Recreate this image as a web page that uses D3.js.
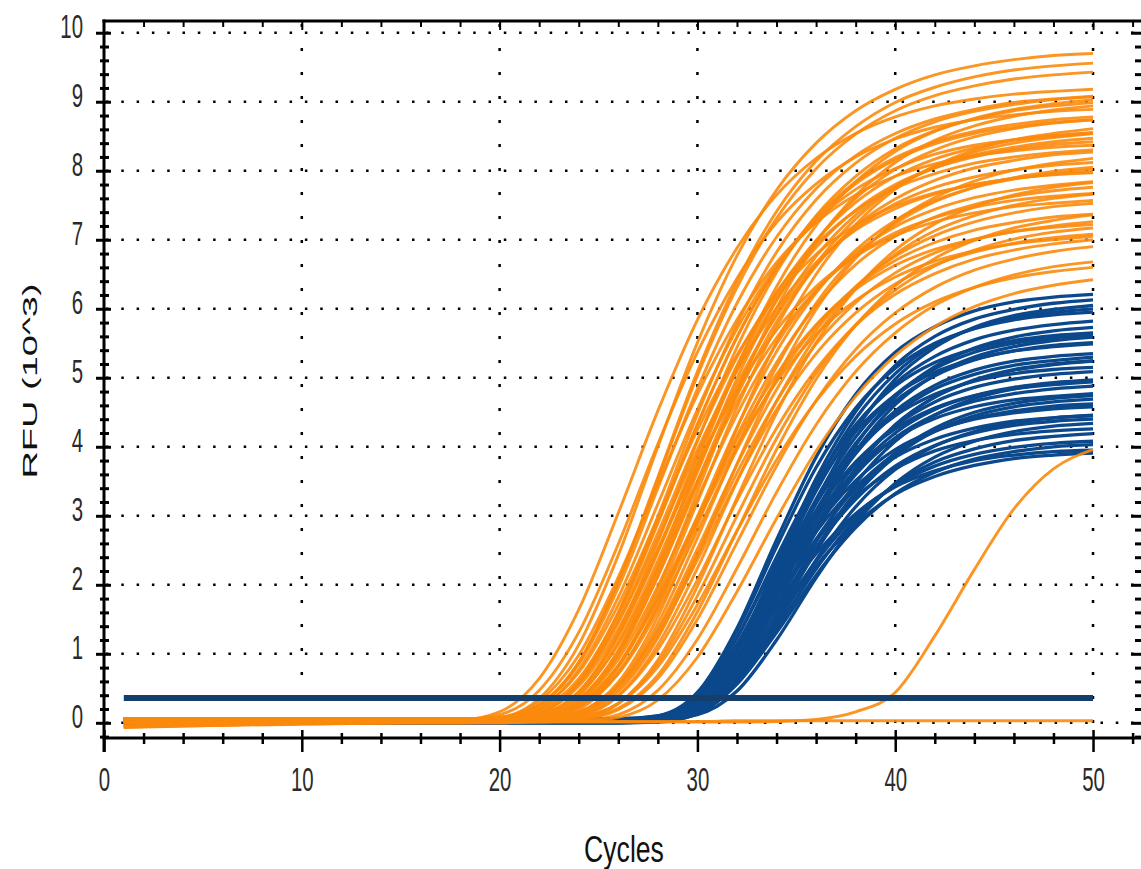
<!DOCTYPE html>
<html>
<head>
<meta charset="utf-8">
<script src="https://cdn.jsdelivr.net/npm/d3@7"></script>
<style>
  body { margin: 0; background: #ffffff; }
</style>
</head>
<body>
<script>
// amplification curves, RFU (10^3) at each cycle knot
const orangeCycles = [1, 10, 16, 18, 20, 22, 24, 26, 28, 30, 32, 34, 36, 38, 40, 42, 44, 46, 48, 50];
const orangeRuns = [
  [-0.05, 0.02, 0.03, 0.04, 0.16, 0.64, 1.64, 3.04, 4.52, 5.84, 6.88, 7.65, 8.18, 8.54, 8.78, 8.94, 9.04, 9.11, 9.15, 9.18],
  [0.02, 0.02, 0.02, 0.02, 0.07, 0.35, 1.13, 2.43, 4.00, 5.51, 6.77, 7.72, 8.40, 8.87, 9.18, 9.39, 9.52, 9.61, 9.67, 9.70],
  [0.05, 0.05, 0.05, 0.05, 0.08, 0.26, 0.88, 2.04, 3.53, 5.03, 6.31, 7.31, 8.03, 8.53, 8.87, 9.09, 9.23, 9.33, 9.39, 9.43],
  [-0.06, -0.02, 0.00, 0.00, 0.01, 0.13, 0.60, 1.60, 2.99, 4.47, 5.78, 6.82, 7.58, 8.11, 8.47, 8.71, 8.86, 8.96, 9.03, 9.07],
  [0.04, 0.04, 0.04, 0.05, 0.12, 0.47, 1.31, 2.59, 4.04, 5.37, 6.44, 7.25, 7.81, 8.20, 8.46, 8.63, 8.74, 8.81, 8.86, 8.89],
  [0.02, 0.02, 0.02, 0.02, 0.03, 0.10, 0.45, 1.31, 2.62, 4.08, 5.44, 6.53, 7.35, 7.92, 8.32, 8.58, 8.75, 8.87, 8.94, 8.99],
  [0.06, 0.06, 0.06, 0.06, 0.07, 0.19, 0.64, 1.59, 2.92, 4.33, 5.59, 6.58, 7.30, 7.81, 8.16, 8.39, 8.54, 8.63, 8.70, 8.74],
  [-0.07, -0.01, 0.01, 0.01, 0.03, 0.20, 0.77, 1.82, 3.17, 4.54, 5.71, 6.62, 7.27, 7.73, 8.03, 8.24, 8.37, 8.45, 8.51, 8.55],
  [0.03, 0.03, 0.03, 0.03, 0.03, 0.07, 0.33, 1.03, 2.21, 3.63, 4.99, 6.12, 6.98, 7.60, 8.02, 8.30, 8.49, 8.61, 8.69, 8.74],
  [0.05, 0.05, 0.05, 0.05, 0.06, 0.12, 0.45, 1.26, 2.47, 3.84, 5.11, 6.13, 6.89, 7.43, 7.80, 8.04, 8.20, 8.31, 8.38, 8.42],
  [0.02, 0.02, 0.02, 0.02, 0.03, 0.14, 0.57, 1.48, 2.75, 4.10, 5.30, 6.24, 6.93, 7.42, 7.75, 7.96, 8.11, 8.20, 8.26, 8.30],
  [0.04, 0.04, 0.04, 0.04, 0.04, 0.06, 0.23, 0.80, 1.85, 3.20, 4.57, 5.74, 6.65, 7.30, 7.76, 8.06, 8.27, 8.40, 8.48, 8.54],
  [-0.04, -0.01, 0.00, 0.00, 0.00, 0.07, 0.39, 1.17, 2.35, 3.68, 4.91, 5.90, 6.64, 7.16, 7.52, 7.76, 7.91, 8.01, 8.08, 8.12],
  [0.06, 0.06, 0.06, 0.06, 0.06, 0.10, 0.34, 1.00, 2.12, 3.45, 4.74, 5.81, 6.62, 7.20, 7.59, 7.86, 8.04, 8.15, 8.23, 8.27],
  [0.03, 0.03, 0.03, 0.03, 0.05, 0.21, 0.73, 1.71, 2.97, 4.24, 5.33, 6.18, 6.79, 7.21, 7.49, 7.68, 7.80, 7.89, 7.94, 7.97],
  [0.01, 0.01, 0.01, 0.01, 0.01, 0.02, 0.13, 0.55, 1.44, 2.68, 3.99, 5.16, 6.08, 6.76, 7.23, 7.55, 7.76, 7.90, 7.99, 8.05],
  [-0.06, 0.00, 0.02, 0.02, 0.02, 0.06, 0.29, 0.92, 1.98, 3.25, 4.47, 5.49, 6.26, 6.81, 7.19, 7.44, 7.61, 7.72, 7.79, 7.84],
  [0.05, 0.05, 0.05, 0.05, 0.05, 0.07, 0.23, 0.73, 1.69, 2.92, 4.16, 5.22, 6.04, 6.64, 7.05, 7.33, 7.51, 7.63, 7.71, 7.76],
  [0.04, 0.04, 0.04, 0.04, 0.04, 0.11, 0.41, 1.14, 2.25, 3.50, 4.65, 5.58, 6.27, 6.77, 7.10, 7.32, 7.47, 7.57, 7.63, 7.67],
  [0.03, 0.03, 0.03, 0.03, 0.03, 0.04, 0.14, 0.53, 1.36, 2.52, 3.74, 4.83, 5.69, 6.32, 6.76, 7.06, 7.26, 7.39, 7.48, 7.53],
  [0.02, 0.02, 0.02, 0.02, 0.02, 0.02, 0.09, 0.39, 1.13, 2.24, 3.50, 4.66, 5.60, 6.30, 6.79, 7.13, 7.35, 7.50, 7.60, 7.66],
  [0.06, 0.06, 0.06, 0.06, 0.06, 0.08, 0.23, 0.71, 1.62, 2.78, 3.96, 4.97, 5.75, 6.31, 6.70, 6.96, 7.14, 7.25, 7.33, 7.37],
  [-0.05, -0.01, 0.00, 0.00, 0.00, 0.04, 0.25, 0.83, 1.81, 2.98, 4.11, 5.05, 5.77, 6.28, 6.63, 6.86, 7.01, 7.12, 7.18, 7.22],
  [0.04, 0.04, 0.04, 0.04, 0.04, 0.04, 0.08, 0.28, 0.86, 1.84, 3.00, 4.12, 5.06, 5.77, 6.27, 6.62, 6.85, 7.01, 7.11, 7.17],
  [0.02, 0.02, 0.02, 0.02, 0.02, 0.03, 0.12, 0.49, 1.27, 2.36, 3.51, 4.54, 5.35, 5.94, 6.36, 6.64, 6.82, 6.95, 7.03, 7.08],
  [0.05, 0.05, 0.05, 0.05, 0.05, 0.05, 0.11, 0.39, 1.06, 2.07, 3.22, 4.27, 5.12, 5.76, 6.21, 6.51, 6.72, 6.85, 6.94, 7.00],
  [0.03, 0.03, 0.03, 0.03, 0.03, 0.03, 0.05, 0.19, 0.64, 1.50, 2.61, 3.72, 4.67, 5.41, 5.94, 6.31, 6.56, 6.72, 6.83, 6.90],
  [0.02, 0.02, 0.02, 0.02, 0.02, 0.02, 0.03, 0.12, 0.47, 1.21, 2.24, 3.34, 4.32, 5.09, 5.65, 6.05, 6.31, 6.49, 6.61, 6.68],
  [0.06, 0.06, 0.06, 0.06, 0.06, 0.06, 0.09, 0.28, 0.81, 1.71, 2.78, 3.81, 4.66, 5.31, 5.78, 6.10, 6.31, 6.45, 6.54, 6.60],
  [0.02, 0.02, 0.02, 0.02, 0.02, 0.02, 0.02, 0.08, 0.33, 0.95, 1.90, 2.96, 3.94, 4.73, 5.32, 5.74, 6.03, 6.22, 6.34, 6.42],
  [0.05, 0.05, 0.05, 0.05, 0.06, 0.17, 0.58, 1.45, 2.67, 3.96, 5.10, 6.01, 6.67, 7.14, 7.45, 7.66, 7.80, 7.89, 7.95, 7.98],
  [0.01, 0.01, 0.01, 0.01, 0.01, 0.05, 0.30, 0.98, 2.13, 3.50, 4.83, 5.93, 6.76, 7.36, 7.77, 8.04, 8.23, 8.34, 8.42, 8.47],
  [0.03, 0.03, 0.03, 0.03, 0.07, 0.31, 0.98, 2.11, 3.46, 4.76, 5.84, 6.67, 7.25, 7.65, 7.92, 8.10, 8.22, 8.29, 8.34, 8.37],
  [0.03, 0.03, 0.03, 0.03, 0.06, 0.25, 0.87, 2.05, 3.56, 5.09, 6.39, 7.41, 8.14, 8.64, 8.99, 9.21, 9.36, 9.46, 9.52, 9.56],
  [0.02, 0.02, 0.02, 0.02, 0.02, 0.07, 0.33, 1.05, 2.27, 3.74, 5.15, 6.32, 7.21, 7.84, 8.28, 8.57, 8.76, 8.89, 8.97, 9.03],
  [0.04, 0.04, 0.04, 0.04, 0.04, 0.06, 0.24, 0.83, 1.93, 3.35, 4.78, 6.01, 6.96, 7.64, 8.12, 8.44, 8.65, 8.79, 8.88, 8.94],
  [-0.05, -0.01, 0.00, 0.00, 0.01, 0.13, 0.58, 1.55, 2.89, 4.32, 5.59, 6.59, 7.33, 7.84, 8.19, 8.42, 8.57, 8.67, 8.74, 8.78],
  [0.02, 0.02, 0.02, 0.02, 0.02, 0.03, 0.15, 0.59, 1.54, 2.87, 4.27, 5.52, 6.50, 7.22, 7.73, 8.07, 8.30, 8.45, 8.54, 8.61],
  [0.05, 0.05, 0.05, 0.05, 0.05, 0.06, 0.12, 0.45, 1.23, 2.42, 3.75, 4.99, 5.99, 6.73, 7.26, 7.61, 7.85, 8.01, 8.11, 8.18],
  [0.01, 0.01, 0.01, 0.01, 0.01, 0.01, 0.05, 0.28, 0.91, 1.98, 3.26, 4.49, 5.51, 6.29, 6.85, 7.23, 7.48, 7.65, 7.76, 7.83],
  [0.03, 0.03, 0.03, 0.03, 0.04, 0.14, 0.53, 1.36, 2.52, 3.74, 4.83, 5.69, 6.32, 6.76, 7.06, 7.26, 7.39, 7.48, 7.53, 7.57],
  [0.04, 0.04, 0.04, 0.04, 0.04, 0.04, 0.06, 0.21, 0.69, 1.61, 2.78, 3.96, 4.98, 5.76, 6.33, 6.73, 6.99, 7.17, 7.28, 7.36],
  [0.05, 0.05, 0.05, 0.05, 0.05, 0.06, 0.16, 0.53, 1.33, 2.44, 3.62, 4.66, 5.49, 6.09, 6.52, 6.81, 7.00, 7.12, 7.20, 7.26],
  [0.02, 0.02, 0.02, 0.02, 0.02, 0.06, 0.26, 0.83, 1.78, 2.92, 4.02, 4.94, 5.63, 6.12, 6.46, 6.69, 6.84, 6.94, 7.00, 7.05],
  [0.03, 0.03, 0.03, 0.03, 0.04, 0.11, 0.44, 1.26, 2.50, 3.89, 5.18, 6.22, 6.99, 7.54, 7.92, 8.17, 8.33, 8.44, 8.50, 8.55],
  [0.01, 0.01, 0.01, 0.01, 0.01, 0.03, 0.19, 0.72, 1.71, 2.99, 4.28, 5.38, 6.23, 6.85, 7.28, 7.57, 7.76, 7.88, 7.96, 8.02],
  [0.05, 0.05, 0.05, 0.05, 0.08, 0.26, 0.85, 1.96, 3.40, 4.84, 6.08, 7.04, 7.74, 8.22, 8.54, 8.75, 8.89, 8.99, 9.04, 9.08],
  // late riser and the flat well
  [0.01, 0.01, 0.01, 0.01, 0.01, 0.01, 0.01, 0.01, 0.01, 0.01, 0.01, 0.02, 0.05, 0.16, 0.44, 1.26, 2.22, 3.10, 3.68, 3.96],
  [0.00, 0.01, 0.02, 0.02, 0.02, 0.02, 0.02, 0.02, 0.02, 0.02, 0.03, 0.03, 0.03, 0.03, 0.03, 0.03, 0.03, 0.03, 0.03, 0.03]
];

const blueCycles = [1, 12, 24, 26, 28, 30, 32, 34, 36, 38, 40, 42, 44, 46, 48, 50];
const blueRuns = [
  [0.02, 0.02, 0.02, 0.02, 0.07, 0.43, 1.37, 2.65, 3.85, 4.76, 5.37, 5.74, 5.97, 6.10, 6.17, 6.21],
  [0.04, 0.04, 0.04, 0.04, 0.06, 0.31, 1.09, 2.30, 3.54, 4.51, 5.18, 5.60, 5.85, 5.99, 6.08, 6.13],
  [0.01, 0.01, 0.01, 0.01, 0.03, 0.27, 1.04, 2.24, 3.45, 4.41, 5.06, 5.48, 5.72, 5.87, 5.95, 6.00],
  [0.05, 0.05, 0.05, 0.05, 0.10, 0.44, 1.33, 2.55, 3.70, 4.56, 5.14, 5.50, 5.71, 5.84, 5.91, 5.95],
  [0.03, 0.03, 0.03, 0.03, 0.05, 0.28, 1.03, 2.18, 3.36, 4.28, 4.92, 5.31, 5.55, 5.69, 5.77, 5.82],
  [0.02, 0.02, 0.02, 0.02, 0.03, 0.18, 0.77, 1.84, 3.03, 4.02, 4.72, 5.16, 5.43, 5.59, 5.68, 5.73],
  [0.00, 0.00, 0.00, 0.00, 0.05, 0.38, 1.23, 2.40, 3.49, 4.32, 4.88, 5.22, 5.42, 5.54, 5.61, 5.65],
  [0.04, 0.04, 0.04, 0.04, 0.05, 0.19, 0.77, 1.81, 2.97, 3.93, 4.61, 5.04, 5.30, 5.45, 5.54, 5.59],
  [0.02, 0.02, 0.02, 0.02, 0.04, 0.26, 0.96, 2.06, 3.18, 4.05, 4.66, 5.03, 5.26, 5.39, 5.47, 5.51],
  [0.06, 0.06, 0.06, 0.06, 0.10, 0.42, 1.24, 2.36, 3.42, 4.22, 4.75, 5.08, 5.27, 5.39, 5.45, 5.49],
  [0.01, 0.01, 0.01, 0.01, 0.03, 0.25, 0.93, 2.00, 3.08, 3.94, 4.52, 4.89, 5.11, 5.24, 5.31, 5.35],
  [0.03, 0.03, 0.03, 0.03, 0.05, 0.26, 0.94, 1.99, 3.05, 3.90, 4.47, 4.84, 5.05, 5.18, 5.25, 5.30],
  [0.05, 0.05, 0.05, 0.05, 0.06, 0.19, 0.73, 1.71, 2.79, 3.68, 4.31, 4.72, 4.96, 5.11, 5.19, 5.24],
  [0.02, 0.02, 0.02, 0.02, 0.06, 0.36, 1.14, 2.20, 3.19, 3.95, 4.45, 4.76, 4.95, 5.06, 5.12, 5.15],
  [0.04, 0.04, 0.04, 0.04, 0.06, 0.26, 0.91, 1.92, 2.94, 3.75, 4.30, 4.65, 4.86, 4.98, 5.05, 5.09],
  [0.00, 0.00, 0.00, 0.00, 0.01, 0.14, 0.65, 1.58, 2.62, 3.47, 4.08, 4.46, 4.70, 4.84, 4.92, 4.96],
  [0.03, 0.03, 0.03, 0.03, 0.07, 0.36, 1.10, 2.11, 3.06, 3.78, 4.26, 4.56, 4.74, 4.84, 4.90, 4.94],
  [0.05, 0.05, 0.05, 0.05, 0.07, 0.26, 0.88, 1.85, 2.82, 3.60, 4.13, 4.46, 4.66, 4.77, 4.84, 4.88],
  [0.01, 0.01, 0.01, 0.01, 0.05, 0.33, 1.04, 2.03, 2.95, 3.65, 4.12, 4.41, 4.58, 4.68, 4.73, 4.77],
  [0.03, 0.03, 0.03, 0.03, 0.04, 0.16, 0.64, 1.52, 2.49, 3.30, 3.86, 4.23, 4.45, 4.58, 4.65, 4.69],
  [0.02, 0.02, 0.02, 0.02, 0.04, 0.22, 0.81, 1.73, 2.66, 3.40, 3.90, 4.22, 4.41, 4.52, 4.59, 4.62],
  [0.04, 0.04, 0.04, 0.04, 0.08, 0.34, 1.03, 1.97, 2.85, 3.51, 3.96, 4.23, 4.40, 4.49, 4.55, 4.58],
  [0.01, 0.01, 0.01, 0.01, 0.02, 0.13, 0.59, 1.43, 2.36, 3.13, 3.67, 4.01, 4.22, 4.35, 4.42, 4.46],
  [0.03, 0.03, 0.03, 0.03, 0.05, 0.22, 0.78, 1.66, 2.54, 3.24, 3.72, 4.02, 4.20, 4.31, 4.37, 4.40],
  [0.05, 0.05, 0.05, 0.05, 0.05, 0.12, 0.46, 1.20, 2.10, 2.90, 3.47, 3.85, 4.08, 4.22, 4.30, 4.34],
  [0.02, 0.02, 0.02, 0.02, 0.05, 0.30, 0.94, 1.82, 2.64, 3.27, 3.68, 3.94, 4.09, 4.18, 4.23, 4.26],
  [0.04, 0.04, 0.04, 0.04, 0.05, 0.15, 0.58, 1.37, 2.23, 2.95, 3.45, 3.78, 3.97, 4.09, 4.15, 4.19],
  [0.00, 0.00, 0.00, 0.00, 0.02, 0.18, 0.70, 1.52, 2.34, 3.00, 3.44, 3.72, 3.89, 3.99, 4.05, 4.08],
  [0.03, 0.03, 0.03, 0.03, 0.04, 0.14, 0.56, 1.31, 2.14, 2.83, 3.32, 3.63, 3.82, 3.93, 4.00, 4.03],
  [0.02, 0.02, 0.02, 0.02, 0.05, 0.28, 0.88, 1.69, 2.45, 3.03, 3.42, 3.65, 3.80, 3.88, 3.93, 3.95],
  [0.05, 0.05, 0.05, 0.05, 0.07, 0.22, 0.71, 1.48, 2.27, 2.88, 3.31, 3.57, 3.73, 3.83, 3.88, 3.91],
  [0.02, 0.02, 0.02, 0.02, 0.04, 0.24, 0.87, 1.86, 2.86, 3.65, 4.20, 4.54, 4.74, 4.86, 4.93, 4.97],
  [0.03, 0.03, 0.03, 0.03, 0.05, 0.28, 0.99, 2.11, 3.24, 4.14, 4.75, 5.13, 5.37, 5.50, 5.58, 5.62],
  [0.04, 0.04, 0.04, 0.04, 0.08, 0.33, 1.00, 1.91, 2.77, 3.42, 3.85, 4.11, 4.27, 4.37, 4.42, 4.45],
  [0.02, 0.02, 0.02, 0.02, 0.03, 0.18, 0.81, 1.94, 3.20, 4.24, 4.98, 5.44, 5.73, 5.90, 5.99, 6.05],
  [0.05, 0.05, 0.05, 0.05, 0.06, 0.18, 0.67, 1.55, 2.53, 3.34, 3.91, 4.27, 4.50, 4.63, 4.70, 4.74],
  [0.01, 0.01, 0.01, 0.01, 0.02, 0.15, 0.70, 1.68, 2.77, 3.68, 4.32, 4.72, 4.97, 5.12, 5.20, 5.25]
];

const thresholdValue = 0.36;
const thresholdCycles = [1, 50];

const xMajorTicks = [0, 10, 20, 30, 40, 50];
const yMajorTicks = [0, 1, 2, 3, 4, 5, 6, 7, 8, 9, 10];

let canvasW = 1141;
let canvasH = 869;
const fontFam = "'Liberation Sans', Arial, sans-serif";

let x = d3.scaleLinear().domain([0, 52.4]).range([104, 1140.5]);
let y = d3.scaleLinear().domain([-0.22, 10.17]).range([738, 21]);

let svg = d3.select("body")
  .append("svg")
    .attr("width", canvasW)
    .attr("height", canvasH)
    .style("background-color", "#ffffff");

// dotted grid
svg.append("g").selectAll("line")
  .data(yMajorTicks)
  .join("line")
    .attr("x1", 106).attr("x2", canvasW)
    .attr("y1", d => y(d)).attr("y2", d => y(d))
    .attr("stroke", "#000")
    .attr("stroke-width", 2.5)
    .attr("stroke-dasharray", "2.5,12.8");

svg.append("g").selectAll("line")
  .data(xMajorTicks.slice(1))
  .join("line")
    .attr("x1", d => x(d)).attr("x2", d => x(d))
    .attr("y1", 24).attr("y2", 736)
    .attr("stroke", "#000")
    .attr("stroke-width", 2.5)
    .attr("stroke-dasharray", "3,21");

let line = d3.line()
  .x(d => x(d[0]))
  .y(d => y(d[1]))
  .curve(d3.curveMonotoneX);

// blue wells
svg.append("g").selectAll("path")
  .data(blueRuns)
  .join("path")
    .attr("d", run => line(blueCycles.map((c, i) => [c, run[i]])))
    .attr("fill", "none")
    .attr("stroke", "#0b488c")
    .attr("stroke-width", 3.3);

// orange wells
svg.append("g").selectAll("path")
  .data(orangeRuns)
  .join("path")
    .attr("d", run => line(orangeCycles.map((c, i) => [c, run[i]])))
    .attr("fill", "none")
    .attr("stroke", "#fb8a0c")
    .attr("stroke-width", 2.9)
    .attr("stroke-opacity", 0.9);

// threshold
svg.append("path")
  .attr("d", line(thresholdCycles.map(c => [c, thresholdValue])))
  .attr("fill", "none")
  .attr("stroke", "#143f6c")
  .attr("stroke-width", 6);

// axes
const yMinor = d3.range(-0.2, 10.1, 0.2).filter(v => Math.abs(v - Math.round(v)) > 0.01);
const xMinor = d3.range(2, 53, 2).filter(v => v % 10 != 0);

svg.append("g")
  .attr("transform", "translate(104,0)")
  .call(d3.axisLeft(y).tickValues(yMinor).tickSize(4).tickFormat(""))
  .call(g => g.select(".domain").remove())
  .call(g => g.selectAll(".tick line").attr("x1", 5).attr("stroke-width", 3));

let yAxisG = svg.append("g")
  .attr("transform", "translate(104,0)")
  .call(d3.axisLeft(y).tickValues(yMajorTicks).tickSize(8).tickFormat(d3.format("d")));
yAxisG.select(".domain").remove();
yAxisG.selectAll(".tick line").attr("x1", 7).attr("stroke-width", 3);
yAxisG.selectAll(".tick text")
  .attr("x", null).attr("dy", null)
  .attr("transform", "translate(-21,5) scale(0.6,1)")
  .attr("font-family", fontFam)
  .attr("font-size", 34)
  .attr("fill", "#2a2a2a");

svg.append("g")
  .attr("transform", "translate(0,738)")
  .call(d3.axisBottom(x).tickValues(xMinor).tickSize(6).tickFormat(""))
  .call(g => g.select(".domain").remove())
  .call(g => g.selectAll(".tick line").attr("y1", -5).attr("stroke-width", 2.5));

let xAxisG = svg.append("g")
  .attr("transform", "translate(0,738)")
  .call(d3.axisBottom(x).tickValues(xMajorTicks).tickSize(14).tickFormat(d3.format("d")));
xAxisG.select(".domain").remove();
xAxisG.selectAll(".tick line").attr("y1", -8).attr("stroke-width", 2.5);
xAxisG.selectAll(".tick text")
  .attr("y", null).attr("dy", null)
  .attr("transform", "translate(0,53) scale(0.6,1)")
  .attr("font-family", fontFam)
  .attr("font-size", 34)
  .attr("fill", "#2a2a2a");

// top and right frame ticks
svg.append("g")
  .attr("transform", "translate(0,21)")
  .call(d3.axisBottom(x).tickValues(xMinor).tickSize(6).tickFormat(""))
  .call(g => g.select(".domain").remove())
  .call(g => g.selectAll(".tick line").attr("stroke-width", 2));
svg.append("g")
  .attr("transform", "translate(0,21)")
  .call(d3.axisBottom(x).tickValues(xMajorTicks.slice(1)).tickSize(9).tickFormat(""))
  .call(g => g.select(".domain").remove())
  .call(g => g.selectAll(".tick line").attr("stroke-width", 2));

svg.append("g")
  .attr("transform", "translate(1142,0)")
  .call(d3.axisLeft(y).tickValues(yMinor).tickSize(7).tickFormat(""))
  .call(g => g.select(".domain").remove())
  .call(g => g.selectAll(".tick line").attr("stroke-width", 3));
svg.append("g")
  .attr("transform", "translate(1142,0)")
  .call(d3.axisLeft(y).tickValues(yMajorTicks).tickSize(11).tickFormat(""))
  .call(g => g.select(".domain").remove())
  .call(g => g.selectAll(".tick line").attr("stroke-width", 3));

// frame lines
svg.append("line").attr("x1", 104).attr("x2", 104).attr("y1", 19.5).attr("y2", 752)
  .attr("stroke", "#000").attr("stroke-width", 3);
svg.append("line").attr("x1", 102.5).attr("x2", canvasW).attr("y1", 738).attr("y2", 738)
  .attr("stroke", "#000").attr("stroke-width", 3);
svg.append("line").attr("x1", 102.5).attr("x2", canvasW).attr("y1", 21).attr("y2", 21)
  .attr("stroke", "#000").attr("stroke-width", 3);

// titles
svg.append("text")
  .attr("text-anchor", "middle")
  .attr("font-family", fontFam)
  .attr("font-size", 37)
  .attr("fill", "#111")
  .attr("transform", "translate(624,862) scale(0.72,1)")
  .text("Cycles");

svg.append("text")
  .attr("text-anchor", "middle")
  .attr("font-family", fontFam)
  .attr("font-size", 38)
  .attr("fill", "#111")
  .attr("transform", "translate(37,381) rotate(-90) scale(1,0.55)")
  .text("RFU (10^3)");
</script>
</body>
</html>
